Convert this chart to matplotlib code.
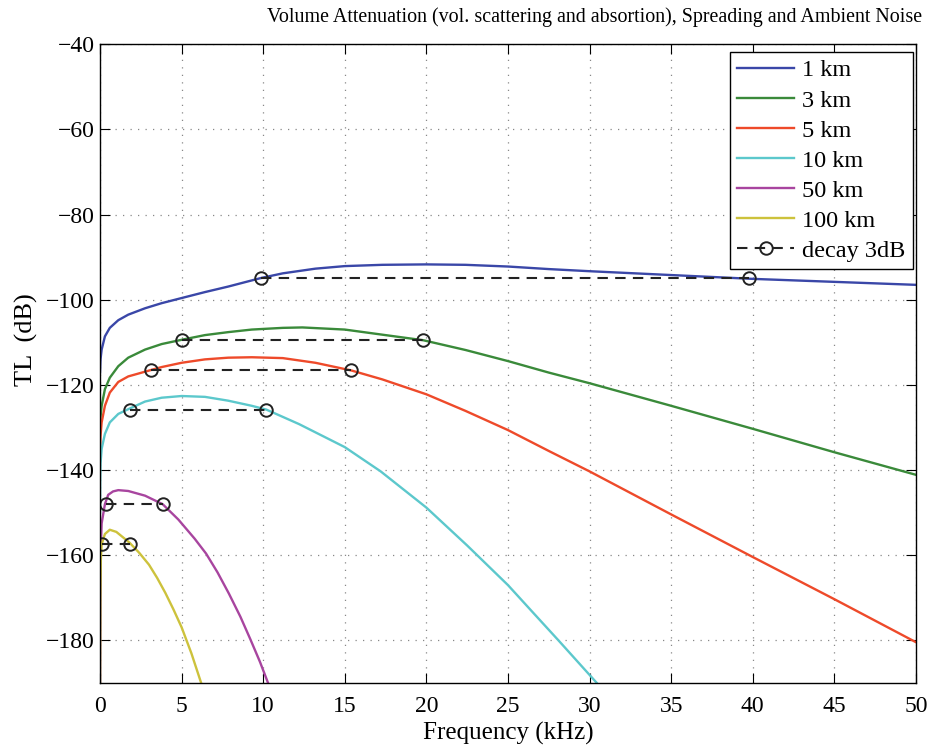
import numpy as np
import matplotlib.pyplot as plt

# frequency (kHz) and TL (dB), one curve per range
f_1km = [0, 0.03, 0.1, 0.3, 0.6, 1.12, 1.73, 2.76, 3.78, 5, 6.43, 7.86, 9.86, 11.2, 13.2, 15, 17.3,
         20, 22.4, 25, 27.5, 30, 35, 40, 45, 50]
tl_1km = [-117, -114, -111.7, -108.6, -106.6, -104.8, -103.5, -102, -100.8, -99.6, -98.2, -96.9, -94.9,
          -93.8, -92.7, -92.1, -91.8, -91.7, -91.8, -92.2, -92.8, -93.3, -94.2, -95.1, -95.8, -96.5]

f_3km = [0, 0.03, 0.1, 0.3, 0.6, 1.12, 1.73, 2.76, 3.78, 5, 6.43, 7.86, 9.3, 11.2, 12.4, 15, 17.3,
         19.8, 22.4, 25, 27.5, 30, 35, 40, 45, 50]
tl_3km = [-130, -127.5, -124.9, -121, -118.3, -115.6, -113.6, -111.7, -110.4, -109.4, -108.3, -107.6,
          -107, -106.6, -106.5, -107, -108.2, -109.5, -111.8, -114.4, -117.1, -119.6, -124.9, -130.3,
          -135.8, -141.1]

f_5km = [0, 0.03, 0.1, 0.3, 0.6, 1.12, 1.73, 3.12, 3.78, 5, 6.43, 7.86, 9.3, 11.2, 13.2, 15.4, 17.3,
         20, 22.4, 25, 27.5, 30, 35, 40, 45, 50]
tl_5km = [-136, -132, -128.8, -124.9, -121.8, -119.3, -118, -116.5, -115.8, -114.8, -114, -113.6, -113.5,
          -113.7, -114.8, -116.6, -118.7, -122.2, -126.1, -130.6, -135.5, -140.3, -150.4, -160.4,
          -170.3, -180.4]

f_10km = [0, 0.01, 0.03, 0.1, 0.3, 0.6, 1.12, 1.84, 2.76, 3.78, 5, 6.43, 7.86, 9.3, 10.2, 12.2, 15,
          17.2, 20, 22.5, 25, 26.5, 28.1, 30.45]
tl_10km = [-150, -143, -138.5, -135, -131.5, -128.8, -126.8, -125.5, -123.9, -123, -122.6, -122.8,
           -123.7, -124.9, -125.8, -129.2, -134.6, -140.3, -148.8, -157.7, -167, -173.3, -180, -190]

f_50km = [0, 0.02, 0.05, 0.1, 0.3, 0.5, 0.8, 1.12, 1.73, 2.76, 3.84, 4.8, 5.8, 6.5, 7.2, 7.9, 8.6,
          9.2, 9.8, 10.3]
tl_50km = [-190, -170, -158, -152.5, -148, -145.8, -145, -144.7, -144.9, -146, -148, -151.6, -156.1,
           -159.6, -164, -169, -174.4, -179.6, -185, -190]

f_100km = [0, 0.02, 0.05, 0.1, 0.3, 0.6, 1.0, 1.8, 2.4, 3, 3.5, 4, 4.5, 5, 5.6, 6.2]
tl_100km = [-190, -170, -161, -157.4, -155, -154, -154.5, -157, -159.4, -162.2, -165.3, -168.8,
            -172.7, -176.9, -183, -190]

# 3 dB decay points: the two frequencies of each pair and their common level
decay_f = [(9.86, 39.8), (5.0, 19.8), (3.15, 15.4), (1.85, 10.2), (0.35, 3.85), (0.1, 1.85)]
decay_tl = [-94.9, -109.5, -116.6, -125.8, -147.9, -157.3]

labels = ['1 km', '3 km', '5 km', '10 km', '50 km', '100 km']
colors = ['#3a47a8', '#3a8a3a', '#ee4a2a', '#5cc8cc', '#a8459f', '#cdc23c']

plt.rcParams['font.family'] = ['Liberation Serif', 'DejaVu Serif']

fig = plt.figure(figsize=(9.4, 7.49), dpi=100)
ax = fig.add_axes([0.1064, 0.088, 0.868, 0.853])

curves = [(f_1km, tl_1km), (f_3km, tl_3km), (f_5km, tl_5km),
          (f_10km, tl_10km), (f_50km, tl_50km), (f_100km, tl_100km)]
for (f, tl), lab, c in zip(curves, labels, colors):
    ax.plot(f, tl, color=c, lw=1.7, label=lab, solid_joinstyle='round')

for i, (pair, lvl) in enumerate(zip(decay_f, decay_tl)):
    ax.plot(pair, [lvl, lvl], '--o', color='#222222', lw=1.5, dashes=(5, 3.5),
            markersize=9, markerfacecolor='none', markeredgewidth=1.4,
            label='decay 3dB' if i == 0 else None)

ax.set_xlim(0, 50)
ax.set_ylim(-190, -40)
ax.set_xticks(np.arange(0, 51, 5))
ax.set_yticks(np.arange(-180, -39, 20))
ax.grid(True, linestyle=(0, (1, 5)), color='#888888', lw=0.9)
ax.tick_params(direction='in', top=True, right=True, length=7, labelsize=17)
ax.tick_params(axis='x', pad=9)
ax.tick_params(axis='y', pad=4)
for s in ax.spines.values():
    s.set_linewidth(1.0)

ax.set_xlabel('Frequency (kHz)', fontsize=18, labelpad=4)
ax.set_ylabel('TL  (dB)', fontsize=19)
ax.yaxis.set_label_coords(-0.076, 0.537)
ax.set_title('Volume Attenuation (vol. scattering and absortion), Spreading and Ambient Noise',
             fontsize=14.4, pad=16, loc='right', x=1.007)

leg = ax.legend(loc='upper right', bbox_to_anchor=(0.9963, 0.9875), borderaxespad=0,
                fontsize=17.5, fancybox=False, edgecolor='black', framealpha=1,
                handlelength=2.35, labelspacing=0.33, borderpad=0.3, handletextpad=0.33)
leg.get_frame().set_linewidth(1.0)

fig.savefig('out.png', dpi=100)
